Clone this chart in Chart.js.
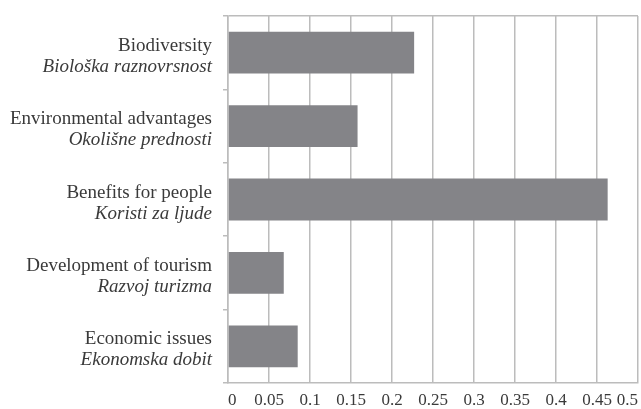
<!DOCTYPE html>
<html>
<head>
<meta charset="utf-8">
<script src="https://cdn.jsdelivr.net/npm/chart.js@4/dist/chart.umd.min.js"></script>
<style>
html,body{margin:0;padding:0;background:#fff;}
#wrap{width:641px;height:409px;position:relative;}
</style>
</head>
<body>
<div id="wrap"><canvas id="c" width="641" height="409"></canvas></div>
<script>
const categoriesEn = ['Biodiversity', 'Environmental advantages', 'Benefits for people', 'Development of tourism', 'Economic issues'];
const categoriesHr = ['Biološka raznovrsnost', 'Okolišne prednosti', 'Koristi za ljude', 'Razvoj turizma', 'Ekonomska dobit'];
const values = [0.227, 0.158, 0.463, 0.068, 0.085];
const xTicks = [0, 0.05, 0.1, 0.15, 0.2, 0.25, 0.3, 0.35, 0.4, 0.45, 0.5];
const xTickLabels = ['0', '0.05', '0.1', '0.15', '0.2', '0.25', '0.3', '0.35', '0.4', '0.45', '0.5'];

const FONT = '"Liberation Serif", "Times New Roman", serif';
const TEXT = '#3a3a3a';
const GRID = '#bcbcbc';

const labelPlugin = {
  id: 'twoLineLabels',
  afterDraw(chart) {
    const y = chart.scales.y;
    const ctx = chart.ctx;
    ctx.save();
    ctx.fillStyle = TEXT;
    ctx.textAlign = 'right';
    ctx.textBaseline = 'alphabetic';
    const xr = chart.chartArea.left - 16;
    categoriesEn.forEach((en, i) => {
      const cy = y.getPixelForValue(i);
      ctx.font = '19px ' + FONT;
      ctx.fillText(en, xr, cy - 2);
      ctx.font = 'italic 19px ' + FONT;
      ctx.fillText(categoriesHr[i], xr, cy + 19);
    });
    ctx.restore();
  }
};

new Chart(document.getElementById('c'), {
  type: 'bar',
  data: {
    labels: categoriesEn,
    datasets: [{
      data: values,
      backgroundColor: '#848488',
      borderWidth: 0,
      categoryPercentage: 1,
      barPercentage: 0.57
    }]
  },
  options: {
    indexAxis: 'y',
    responsive: false,
    animation: false,
    layout: { padding: { top: 16, right: 3, left: 0, bottom: 0 } },
    plugins: { legend: { display: false }, tooltip: { enabled: false } },
    scales: {
      x: {
        min: 0, max: 0.5,
        afterBuildTicks: s => { s.ticks = xTicks.map(v => ({ value: v })); },
        afterFit: s => { s.height = 26; s.paddingLeft = 0; s.paddingRight = 0; },
        ticks: {
          callback: (v, i) => xTickLabels[i],
          color: TEXT,
          font: { family: FONT, size: 17 },
          padding: 7,
          align: 'inner',
          maxRotation: 0, autoSkip: false
        },
        grid: { color: GRID, lineWidth: 1.5, drawTicks: false },
        border: { color: GRID, width: 1.5 }
      },
      y: {
        afterFit: s => { s.width = 228; },
        ticks: { display: false },
        grid: {
          offset: true,
          drawOnChartArea: true,
          color: ctx => (ctx.index === 0 || ctx.index === categoriesEn.length) ? GRID : 'rgba(0,0,0,0)',
          tickColor: GRID,
          tickLength: 5,
          lineWidth: 1.5
        },
        border: { color: GRID, width: 1.5 }
      }
    }
  },
  plugins: [labelPlugin]
});
</script>
</body>
</html>
